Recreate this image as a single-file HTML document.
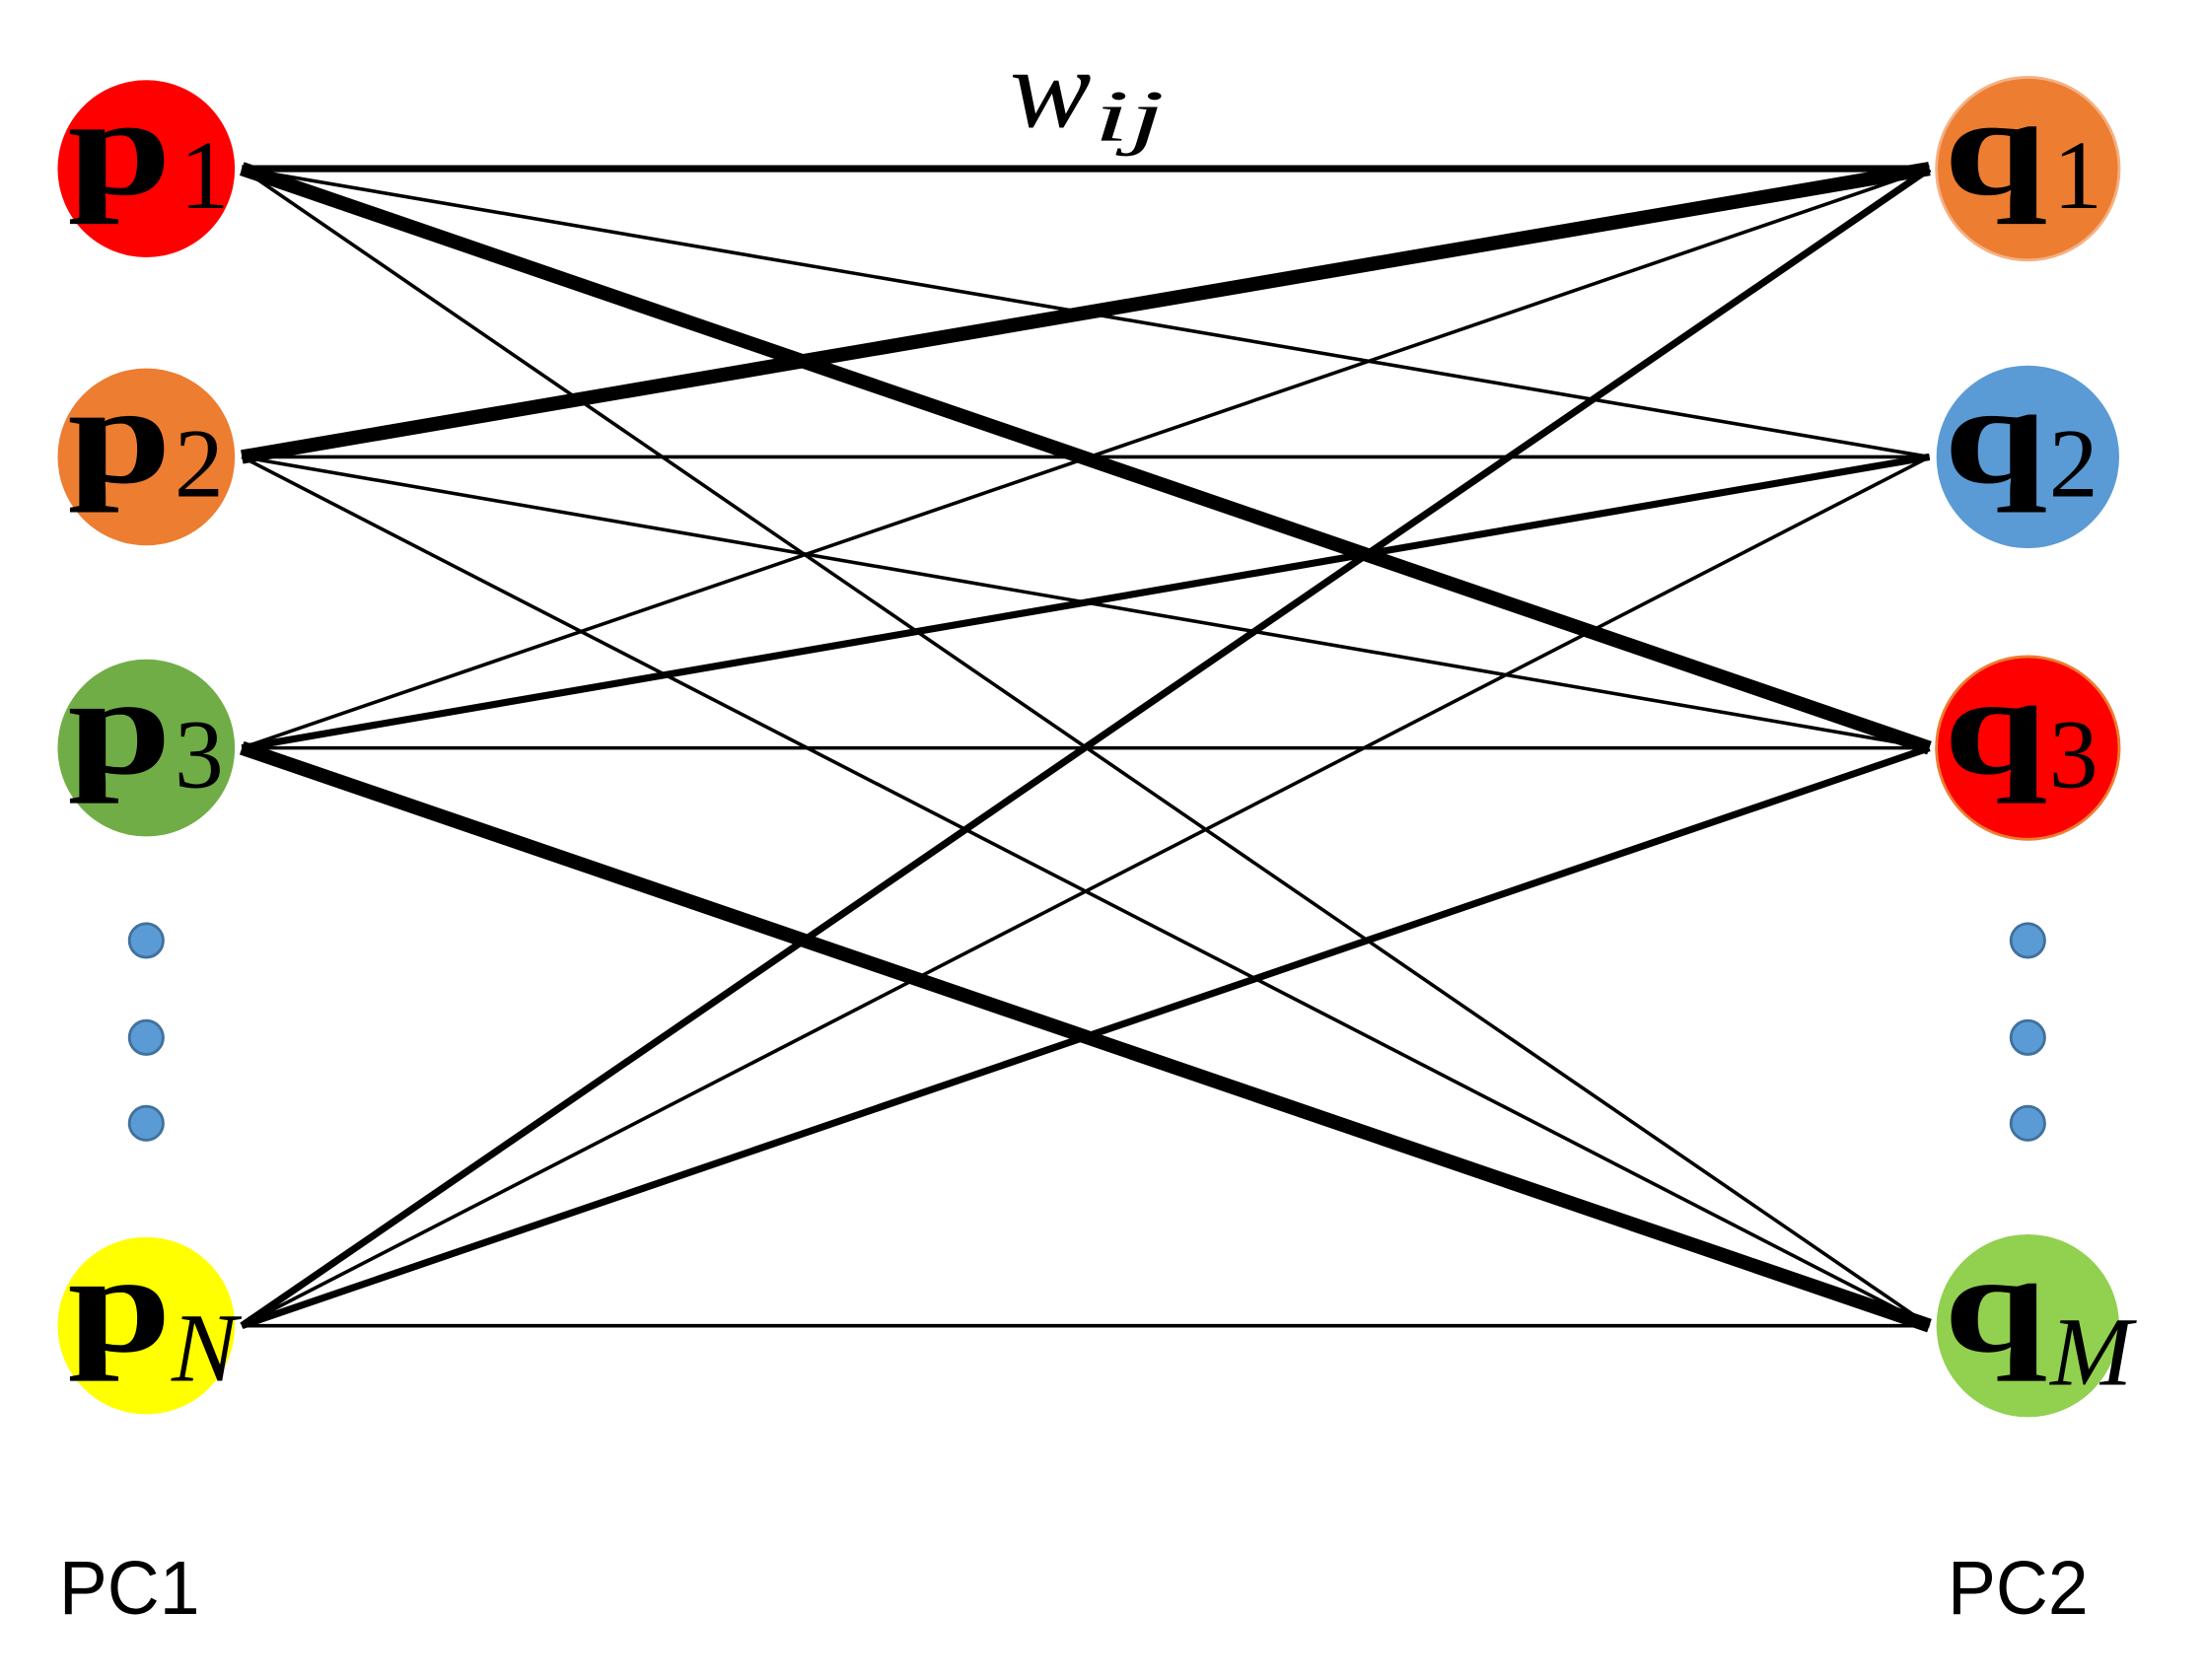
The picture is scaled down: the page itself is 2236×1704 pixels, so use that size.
<!DOCTYPE html>
<html><head><meta charset="utf-8"><style>html,body{margin:0;padding:0;background:#fff;}svg{display:block}</style></head>
<body>
<svg width="2236" height="1704" viewBox="0 0 1568 1195" preserveAspectRatio="none" xmlns="http://www.w3.org/2000/svg">
<g fill="none" stroke="#000" stroke-linecap="butt">
<line x1="172" y1="120" x2="1372" y2="120" stroke-width="5"/>
<line x1="172" y1="120" x2="1372" y2="325" stroke-width="2.5"/>
<line x1="172" y1="120" x2="1372" y2="532" stroke-width="10"/>
<line x1="172" y1="120" x2="1372" y2="943" stroke-width="2.5"/>
<line x1="172" y1="325" x2="1372" y2="120" stroke-width="10"/>
<line x1="172" y1="325" x2="1372" y2="325" stroke-width="2.5"/>
<line x1="172" y1="325" x2="1372" y2="532" stroke-width="2.5"/>
<line x1="172" y1="325" x2="1372" y2="943" stroke-width="2.5"/>
<line x1="172" y1="532" x2="1372" y2="120" stroke-width="2.5"/>
<line x1="172" y1="532" x2="1372" y2="325" stroke-width="5"/>
<line x1="172" y1="532" x2="1372" y2="532" stroke-width="2.5"/>
<line x1="172" y1="532" x2="1372" y2="943" stroke-width="10"/>
<line x1="172" y1="943" x2="1372" y2="120" stroke-width="5"/>
<line x1="172" y1="943" x2="1372" y2="325" stroke-width="2.5"/>
<line x1="172" y1="943" x2="1372" y2="532" stroke-width="5"/>
<line x1="172" y1="943" x2="1372" y2="943" stroke-width="2.5"/>
</g>
<circle cx="104" cy="120" r="63" fill="#ff0000"/>
<circle cx="104" cy="325" r="63" fill="#ed7d31"/>
<circle cx="104" cy="532" r="63" fill="#70ad47"/>
<circle cx="104" cy="943" r="63" fill="#ffff00"/>
<circle cx="1442" cy="120" r="65" fill="#ed7d31" stroke="#f4b183" stroke-width="2"/>
<circle cx="1442" cy="325" r="65" fill="#5b9bd5"/>
<circle cx="1442" cy="532" r="65" fill="#ff0000" stroke="#ed7d31" stroke-width="2"/>
<circle cx="1442" cy="943" r="65" fill="#92d050"/>
<g fill="#5b9bd5" stroke="#41719c" stroke-width="2">
<circle cx="104" cy="669" r="12"/><circle cx="104" cy="738" r="12"/><circle cx="104" cy="799" r="12"/>
<circle cx="1442" cy="669" r="12"/><circle cx="1442" cy="738" r="12"/><circle cx="1442" cy="799" r="12"/>
</g>
<g font-family="Liberation Serif, serif" fill="#000">
<text x="48" y="138" font-size="100" font-weight="bold" textLength="74" lengthAdjust="spacingAndGlyphs">p</text><text x="128" y="148" font-size="70">1</text>
<text x="48" y="343" font-size="100" font-weight="bold" textLength="74" lengthAdjust="spacingAndGlyphs">p</text><text x="124" y="353" font-size="70">2</text>
<text x="48" y="550" font-size="100" font-weight="bold" textLength="74" lengthAdjust="spacingAndGlyphs">p</text><text x="124" y="560" font-size="70">3</text>
<text x="48" y="961" font-size="100" font-weight="bold" textLength="74" lengthAdjust="spacingAndGlyphs">p</text><text x="122" y="982" font-size="70" font-style="italic">N</text>
<text x="1382" y="138" font-size="100" font-weight="bold" textLength="74" lengthAdjust="spacingAndGlyphs">q</text><text x="1460" y="148" font-size="70">1</text>
<text x="1382" y="343" font-size="100" font-weight="bold" textLength="74" lengthAdjust="spacingAndGlyphs">q</text><text x="1457" y="353" font-size="70">2</text>
<text x="1382" y="550" font-size="100" font-weight="bold" textLength="74" lengthAdjust="spacingAndGlyphs">q</text><text x="1457" y="560" font-size="70">3</text>
<text x="1382" y="961" font-size="100" font-weight="bold" textLength="74" lengthAdjust="spacingAndGlyphs">q</text><text x="1458" y="985" font-size="70" font-style="italic">M</text>
<text x="718" y="90" font-size="80" font-style="italic" textLength="58" lengthAdjust="spacingAndGlyphs">w</text><text x="778" y="100" font-size="52" font-style="italic" textLength="50" lengthAdjust="spacingAndGlyphs">ij</text>
</g>
<g font-family="Liberation Sans, sans-serif" font-size="54" fill="#000">
<text x="42" y="1148" textLength="100" lengthAdjust="spacingAndGlyphs">PC1</text>
<text x="1385" y="1148" textLength="100" lengthAdjust="spacingAndGlyphs">PC2</text>
</g>
</svg>
</body></html>
